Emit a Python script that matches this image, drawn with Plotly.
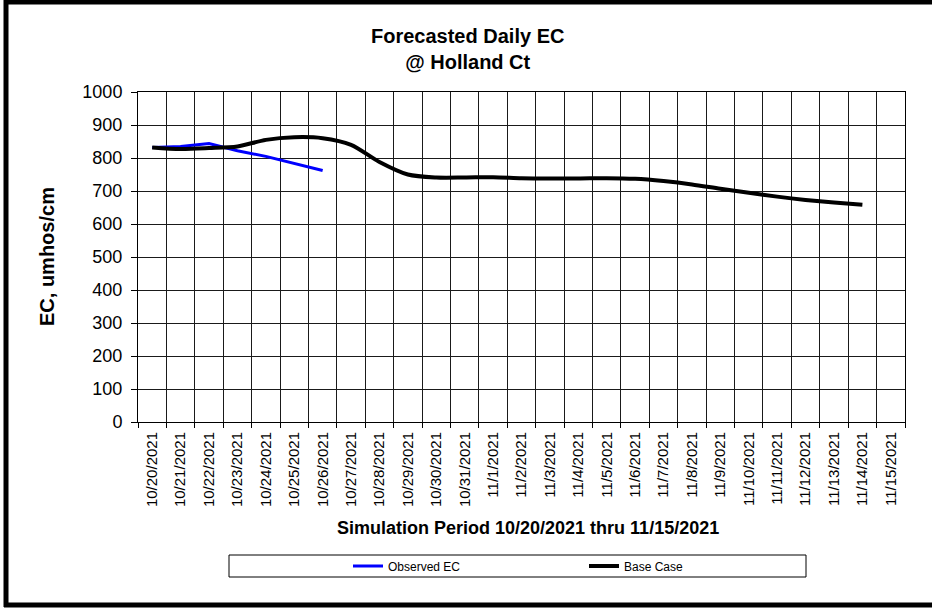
import plotly.graph_objects as go

dates = ["10/20/2021", "10/21/2021", "10/22/2021", "10/23/2021", "10/24/2021", "10/25/2021",
         "10/26/2021", "10/27/2021", "10/28/2021", "10/29/2021", "10/30/2021", "10/31/2021",
         "11/1/2021", "11/2/2021", "11/3/2021", "11/4/2021", "11/5/2021", "11/6/2021",
         "11/7/2021", "11/8/2021", "11/9/2021", "11/10/2021", "11/11/2021", "11/12/2021",
         "11/13/2021", "11/14/2021", "11/15/2021"]

observed_ec = [832, 835, 844, 822, 805, 784, 762]

base_case = [832, 827, 830, 835, 855, 863, 860, 840, 788, 750, 741, 741,
             742, 739, 738, 738, 739, 737, 730, 720, 707, 695, 683, 673, 665, 658]

FONT = "Arial, Liberation Sans, sans-serif"

fig = go.Figure()
# all categories on the axis
fig.add_trace(go.Scatter(x=dates, y=[None] * len(dates), mode="lines",
                         showlegend=False, hoverinfo="skip"))
fig.add_trace(go.Scatter(x=dates[:len(observed_ec)], y=observed_ec, mode="lines",
                         name="Observed EC", line=dict(color="#0000FF", width=3)))
fig.add_trace(go.Scatter(x=dates[:len(base_case)], y=base_case, mode="lines",
                         name="Base Case", line=dict(color="#000000", width=4,
                                                     shape="spline", smoothing=0.8)))

def px_x(p):
    return (p - 138) / 767.0

def px_y(p):
    return (422 - p) / 330.0

fig.update_layout(
    width=932, height=609,
    margin=dict(l=138, r=27, t=92, b=187),
    paper_bgcolor="white", plot_bgcolor="white",
    font=dict(family=FONT, color="black"),
    showlegend=True,
    legend=dict(orientation="h", x=px_x(584), xanchor="center", y=px_y(566), yanchor="middle",
                bgcolor="rgba(0,0,0,0)", font=dict(size=12, family=FONT),
                entrywidth=191, itemwidth=30, tracegroupgap=0),
    xaxis=dict(type="category", categoryorder="array", categoryarray=dates,
               range=[-0.5, len(dates) - 0.5], tickson="boundaries",
               showgrid=True, gridcolor="#1a1a1a", gridwidth=1,
               showline=True, linecolor="black", linewidth=1, mirror=True,
               ticks="outside", ticklen=5, tickcolor="black", ticklabelstandoff=3,
               tickangle=-90, tickfont=dict(size=15, family=FONT)),
    yaxis=dict(range=[0, 1000], dtick=100, tick0=0,
               showgrid=True, gridcolor="#1a1a1a", gridwidth=1,
               showline=True, linecolor="black", linewidth=1, mirror=True,
               ticks="outside", ticklen=6, tickcolor="black", ticklabelstandoff=5,
               tickfont=dict(size=18, family=FONT), zeroline=False),
    annotations=[
        dict(text="<b>Forecasted Daily EC<br>@ Holland Ct</b>", xref="paper", yref="paper",
             x=px_x(467), y=px_y(49), xanchor="center", yanchor="middle", showarrow=False,
             font=dict(size=20, family=FONT)),
        dict(text="<b>Simulation Period 10/20/2021 thru 11/15/2021</b>", xref="paper", yref="paper",
             x=px_x(528), y=px_y(528), xanchor="center", yanchor="middle", showarrow=False,
             font=dict(size=18, family=FONT)),
        dict(text="<b>EC, umhos/cm</b>", xref="paper", yref="paper", textangle=-90,
             x=px_x(47), y=px_y(257), xanchor="center", yanchor="middle", showarrow=False,
             font=dict(size=20, family=FONT)),
    ],
    shapes=[
        dict(type="rect", xref="paper", yref="paper",
             x0=px_x(229), x1=px_x(806), y0=px_y(577), y1=px_y(555),
             line=dict(color="black", width=1), fillcolor="rgba(0,0,0,0)"),
        dict(type="line", xref="paper", yref="paper",
             x0=px_x(6), x1=px_x(6), y0=px_y(607), y1=px_y(0),
             line=dict(color="black", width=5)),
        dict(type="line", xref="paper", yref="paper",
             x0=px_x(4), x1=px_x(940), y0=px_y(2), y1=px_y(2),
             line=dict(color="black", width=5)),
        dict(type="line", xref="paper", yref="paper",
             x0=px_x(4), x1=px_x(940), y0=px_y(605), y1=px_y(605),
             line=dict(color="black", width=5)),
    ],
)

fig.write_html("out.html", config={"displayModeBar": False},
               post_script="document.body.style.margin='0';document.body.style.overflow='hidden';")
